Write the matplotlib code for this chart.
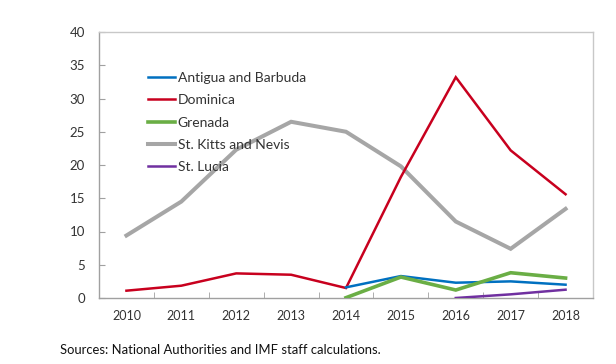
import matplotlib
matplotlib.use("Agg")
import matplotlib.pyplot as plt
import numpy as np

years = ["2010", "2011", "2012", "2013", "2014", "2015", "2016", "2017", "2018"]
antigua = [None, None, None, None, 1.6, 3.3, 2.3, 2.5, 2.0]
dominica = [1.1, 1.85, 3.7, 3.5, 1.5, 18.2, 33.2, 22.2, 15.6]
grenada = [None, None, None, None, 0.05, 3.15, 1.2, 3.8, 3.0]
stkitts = [9.4, 14.5, 22.3, 26.5, 25.0, 19.8, 11.5, 7.4, 13.4]
stlucia = [None, None, None, None, None, None, 0.0, 0.55, 1.25]
series_names = ["Antigua and Barbuda", "Dominica", "Grenada", "St. Kitts and Nevis", "St. Lucia"]
yticks = [0, 5, 10, 15, 20, 25, 30, 35, 40]
source = "Sources: National Authorities and IMF staff calculations."

plt.rcParams['font.family'] = ['Lato', 'DejaVu Sans']

fig = plt.figure(figsize=(6.16, 3.64), dpi=100)
ax = fig.add_axes([99/616, 1-298/364, (593-99)/616, (298-32)/364])

x = np.arange(len(years))
def arr(v):
    return np.array([np.nan if a is None else a for a in v], dtype=float)

colors = ["#0070C0", "#C8001E", "#6AAE45", "#A6A6A6", "#7030A0"]
widths = [1.8, 1.8, 2.6, 2.9, 1.8]
data = [antigua, dominica, grenada, stkitts, stlucia]
order = [3, 1, 0, 2, 4]
handles = {}
for i in order:
    h, = ax.plot(x, arr(data[i]), color=colors[i], lw=widths[i], label=series_names[i],
                 solid_joinstyle='miter', zorder=3 if i != 3 else 2)
    handles[i] = h

ax.set_xlim(-0.5, len(years) - 0.5)
ax.set_ylim(0, 40)
ax.set_yticks(yticks)
ax.set_xticks(x)
ax.set_xticklabels(years)
ax.set_xticks(np.arange(0.5, len(years) - 1, 1), minor=True)
ax.tick_params(axis='x', which='major', length=0, pad=9, labelsize=9, labelcolor='#333333')
ax.tick_params(axis='x', which='minor', direction='in', length=4, color='#A0A0A0')
ax.tick_params(axis='y', direction='in', length=4, color='#A0A0A0', pad=10, labelsize=9.5, labelcolor='#333333')

for s in ['left', 'bottom']:
    ax.spines[s].set_color('#A0A0A0')
for s in ['top', 'right']:
    ax.spines[s].set_color('#C8C8C8')
for s in ax.spines.values():
    s.set_linewidth(1.0)

leg = ax.legend([handles[i] for i in range(5)], series_names, loc='upper left',
                bbox_to_anchor=(148/616, 1-72/364), bbox_transform=fig.transFigure,
                frameon=False, fontsize=10, handlelength=1.94, handletextpad=0.2,
                labelspacing=0.74, borderpad=0, borderaxespad=0)
for t in leg.get_texts():
    t.set_color('#333333')

fig.text(60/616, 1-350/364, source, fontsize=9.4, color='#111111', va='center', ha='left')

fig.savefig("out.png", dpi=100)
